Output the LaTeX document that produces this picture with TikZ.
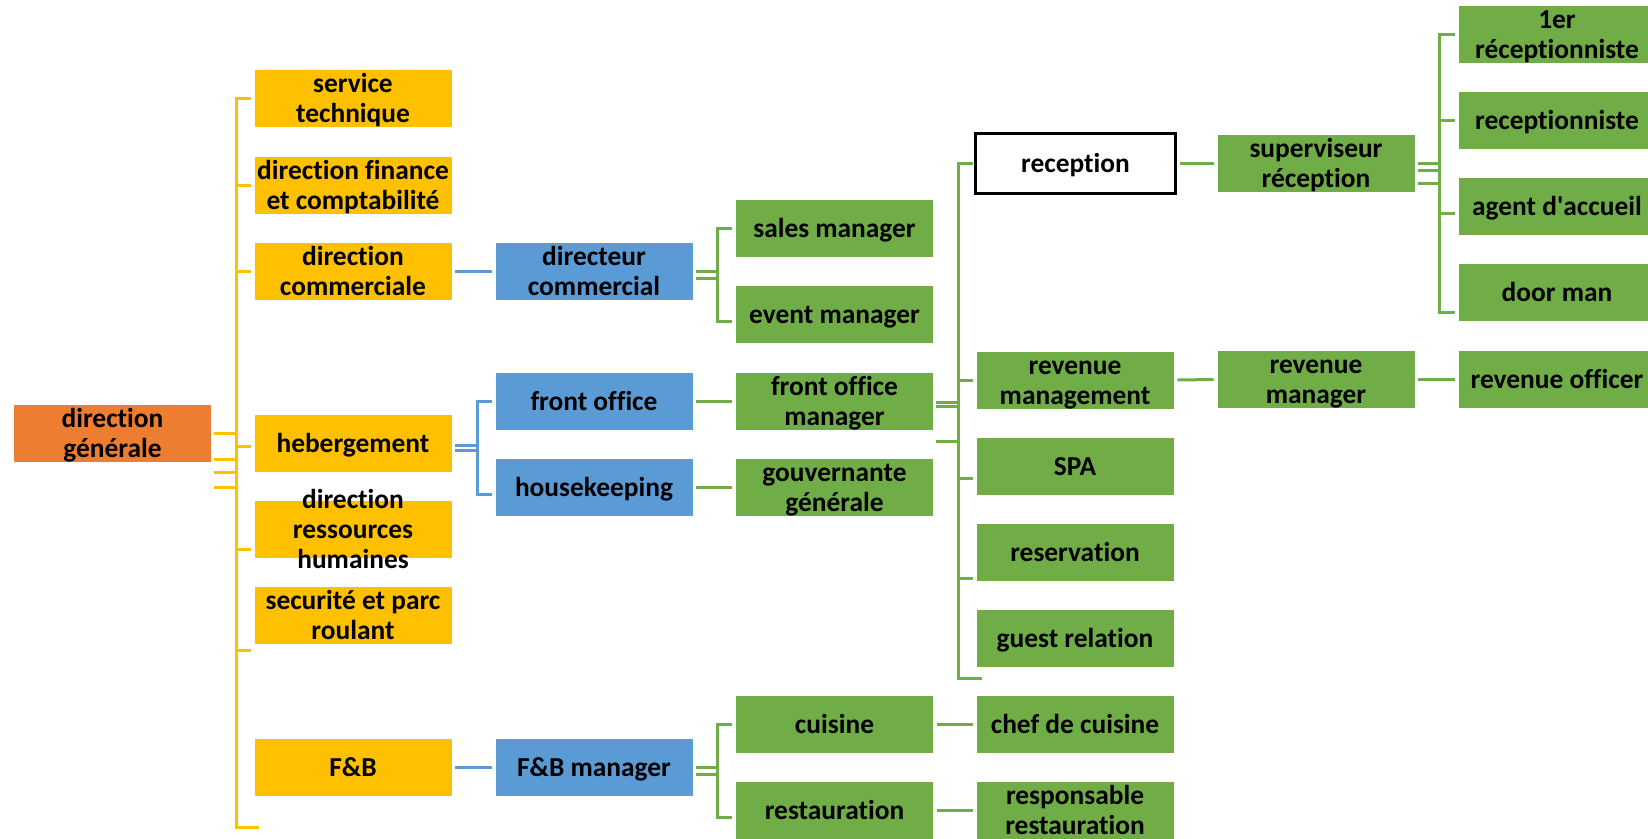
\documentclass[tikz,border=0pt]{standalone}
\usepackage{fontspec}
\setmainfont{Carlito}[Ligatures=NoCommon]
\definecolor{cOr}{HTML}{ED7D31}
\definecolor{cYe}{HTML}{FFC000}
\definecolor{cBl}{HTML}{5B9BD5}
\definecolor{cGr}{HTML}{70AD47}
\newcommand\Bx[4]{\node[#1] (#2) at (#3) {}; \node[txt] (#2-t) at ([yshift=-3pt]#2) {#4};}
\begin{document}
\begin{tikzpicture}[x=1pt,y=-1pt,
 box/.style={minimum width=198pt,minimum height=58pt,inner sep=0pt,draw=white,line width=0.6pt},
 obox/.style={box,fill=cOr}, ybox/.style={box,fill=cYe}, bbox/.style={box,fill=cBl}, gbox/.style={box,fill=cGr},
 wbox/.style={box,draw=black,line width=2.5pt,fill=white,minimum width=200pt,minimum height=60pt},
 txt/.style={font=\bfseries\fontsize{27.4}{30}\selectfont,align=center,inner sep=0pt,text=black},
 ln/.style={line width=3pt},
 yl/.style={ln,draw=cYe}, bl/.style={ln,draw=cBl}, gl/.style={ln,draw=cGr},
 sh/.style={shorten <=3pt,shorten >=3pt}]
\useasboundingbox (0,0) rectangle (1648,838);
\clip (0,0) rectangle (1648,838);
% ---------- boxes ----------
\Bx{obox}{dg}{112.5,433}{\strut direction\\\strut générale}
\Bx{ybox}{st}{353,98}{\strut service\\\strut technique}
\Bx{ybox}{fin}{353,185}{\strut direction finance\\\strut et comptabilité}
\Bx{ybox}{com}{353,271}{\strut direction\\\strut commerciale}
\Bx{ybox}{heb}{353,443}{\strut hebergement}
\Bx{ybox}{rh}{353,529}{\strut direction\\\strut ressources\\\strut humaines}
\Bx{ybox}{sec}{353,615}{\strut securité et parc\\\strut roulant}
\Bx{ybox}{fb}{353,767}{\strut F\&B}
\Bx{bbox}{dc}{594,271}{\strut directeur\\\strut commercial}
\Bx{bbox}{fo}{594,401}{\strut front office}
\Bx{bbox}{hk}{594,487}{\strut housekeeping}
\Bx{bbox}{fbm}{594,767}{\strut F\&B manager}
\Bx{gbox}{sm}{834.5,228}{\strut sales manager}
\Bx{gbox}{em}{834.5,314.5}{\strut event manager}
\Bx{gbox}{fom}{834.5,401}{\strut front office\\\strut manager}
\Bx{gbox}{gg}{834.5,487}{\strut gouvernante\\\strut générale}
\Bx{gbox}{cu}{834.5,724}{\strut cuisine}
\Bx{gbox}{re}{834.5,810.5}{\strut restauration}
\Bx{wbox}{rcp}{1075.5,163.5}{\strut reception}
\Bx{gbox}{rm}{1075,380}{\strut revenue\\\strut management}
\Bx{gbox}{spa}{1075,466}{\strut SPA}
\Bx{gbox}{res}{1075,552}{\strut reservation}
\Bx{gbox}{gr}{1075,638}{\strut guest relation}
\Bx{gbox}{chef}{1075,724}{\strut chef de cuisine}
\Bx{gbox}{resp}{1075,810.5}{\strut responsable\\\strut restauration}
\Bx{gbox}{sup}{1316,163.5}{\strut superviseur\\\strut réception}
\Bx{gbox}{rmgr}{1316,379.5}{\strut revenue\\\strut manager}
\Bx{gbox}{r1}{1557,34}{\strut 1er\\\strut réceptionniste}
\Bx{gbox}{rec}{1557,120}{\strut receptionniste}
\Bx{gbox}{aa}{1557,206}{\strut agent d\textquotesingle accueil}
\Bx{gbox}{dm}{1557,292.5}{\strut door man}
\Bx{gbox}{ro}{1557,379.5}{\strut revenue officer}
% ---------- yellow connectors ----------
\coordinate (yb) at (236,0);
\coordinate (ybot) at (236,827);
\draw[yl] ([xshift=-3pt]st.west) -| (ybot) -- ++(23,0);
\draw[yl] ([xshift=-3pt]fin.west) -- (fin.west -| yb);
\draw[yl] ([xshift=-3pt]com.west) -- (com.west -| yb);
\draw[yl] ([xshift=-3pt,yshift=-3pt]heb.west) -- ([yshift=-3pt]heb.west -| yb);
\draw[yl] ([xshift=-3pt,yshift=-20pt]rh.west) -- ([yshift=-20pt]rh.west -| yb);
\draw[yl] ([xshift=-3pt,yshift=-35pt]sec.west) -- ([yshift=-35pt]sec.west -| yb);
\draw[yl] ([xshift=2pt]dg.east) -- (dg.east -| yb);
\draw[yl] ([xshift=2pt,yshift=-26pt]dg.east) -- ([yshift=-26pt]dg.east -| yb);
\draw[yl] ([xshift=2pt,yshift=-39pt]dg.east) -- ([yshift=-39pt]dg.east -| yb);
\draw[yl] ([xshift=2pt,yshift=-54pt]dg.east) -- ([yshift=-54pt]dg.east -| yb);
% ---------- blue connectors ----------
\coordinate (bv) at (477,0);
\draw[bl,sh] (com.east) -- (dc.west);
\draw[bl,sh] (fb.east) -- (fbm.west);
\draw[bl] ([xshift=3pt,yshift=-2pt]heb.east) -- ([yshift=-2pt]heb.east -| bv);
\draw[bl] ([xshift=3pt,yshift=-7pt]heb.east) -- ([yshift=-7pt]heb.east -| bv);
\draw[bl] ([xshift=-3pt]fo.west) -| ([yshift=-7pt]hk.west -| bv) -- ([xshift=-3pt,yshift=-7pt]hk.west);
% ---------- green connectors ----------
\coordinate (g1) at (717,0);
\coordinate (g2) at (958,0);
\coordinate (g4) at (1439,0);
\draw[gl] ([xshift=3pt]dc.east) -- (dc.east -| g1);
\draw[gl] ([xshift=3pt,yshift=-7pt]dc.east) -- ([yshift=-7pt]dc.east -| g1);
\draw[gl] ([xshift=-3pt]sm.west) -| ([yshift=-7pt]em.west -| g1) -- ([xshift=-3pt,yshift=-7pt]em.west);
\draw[gl] ([xshift=3pt]fbm.east) -- (fbm.east -| g1);
\draw[gl] ([xshift=3pt,yshift=-7pt]fbm.east) -- ([yshift=-7pt]fbm.east -| g1);
\draw[gl] ([xshift=-3pt]cu.west) -| ([yshift=-7pt]re.west -| g1) -- ([xshift=-3pt,yshift=-7pt]re.west);
\draw[gl,sh] (fo.east) -- (fom.west);
\draw[gl,sh] (hk.east) -- (gg.west);
\draw[gl] ([xshift=2pt,yshift=-1pt]fom.east) -- ([yshift=-1pt]fom.east -| g2);
\draw[gl] ([xshift=2pt,yshift=-5.5pt]fom.east) -- ([yshift=-5.5pt]fom.east -| g2);
\draw[gl] ([xshift=2pt,yshift=-40pt]fom.east) -- ([yshift=-40pt]fom.east -| g2);
\draw[gl] ([xshift=-1pt]rcp.west) -| ([yshift=-40pt]gr.west -| g2) -- ++(24,0);
\draw[gl] ([xshift=-3pt]rm.west) -- (rm.west -| g2);
\draw[gl] ([xshift=-3pt,yshift=-12pt]spa.west) -- ([yshift=-12pt]spa.west -| g2);
\draw[gl] ([xshift=-3pt,yshift=-26pt]res.west) -- ([yshift=-26pt]res.west -| g2);
\draw[gl,sh] (rcp.east) -- (sup.west);
\draw[gl,sh] (rm.east) -- (rmgr.west);
\draw[gl,sh] (rmgr.east) -- (ro.west);
\draw[gl,sh] (cu.east) -- (chef.west);
\draw[gl,sh] (re.east) -- (resp.west);
\draw[gl] ([xshift=3pt]sup.east) -- (sup.east -| g4);
\draw[gl] ([xshift=3pt,yshift=-7pt]sup.east) -- ([yshift=-7pt]sup.east -| g4);
\draw[gl] ([xshift=3pt,yshift=-20pt]sup.east) -- ([yshift=-20pt]sup.east -| g4);
\draw[gl] ([xshift=-3pt]r1.west) -| ([yshift=-20pt]dm.west -| g4) -- ([xshift=-3pt,yshift=-20pt]dm.west);
\draw[gl] ([xshift=-3pt]rec.west) -- (rec.west -| g4);
\draw[gl] ([xshift=-3pt,yshift=-7pt]aa.west) -- ([yshift=-7pt]aa.west -| g4);
\end{tikzpicture}
\end{document}
